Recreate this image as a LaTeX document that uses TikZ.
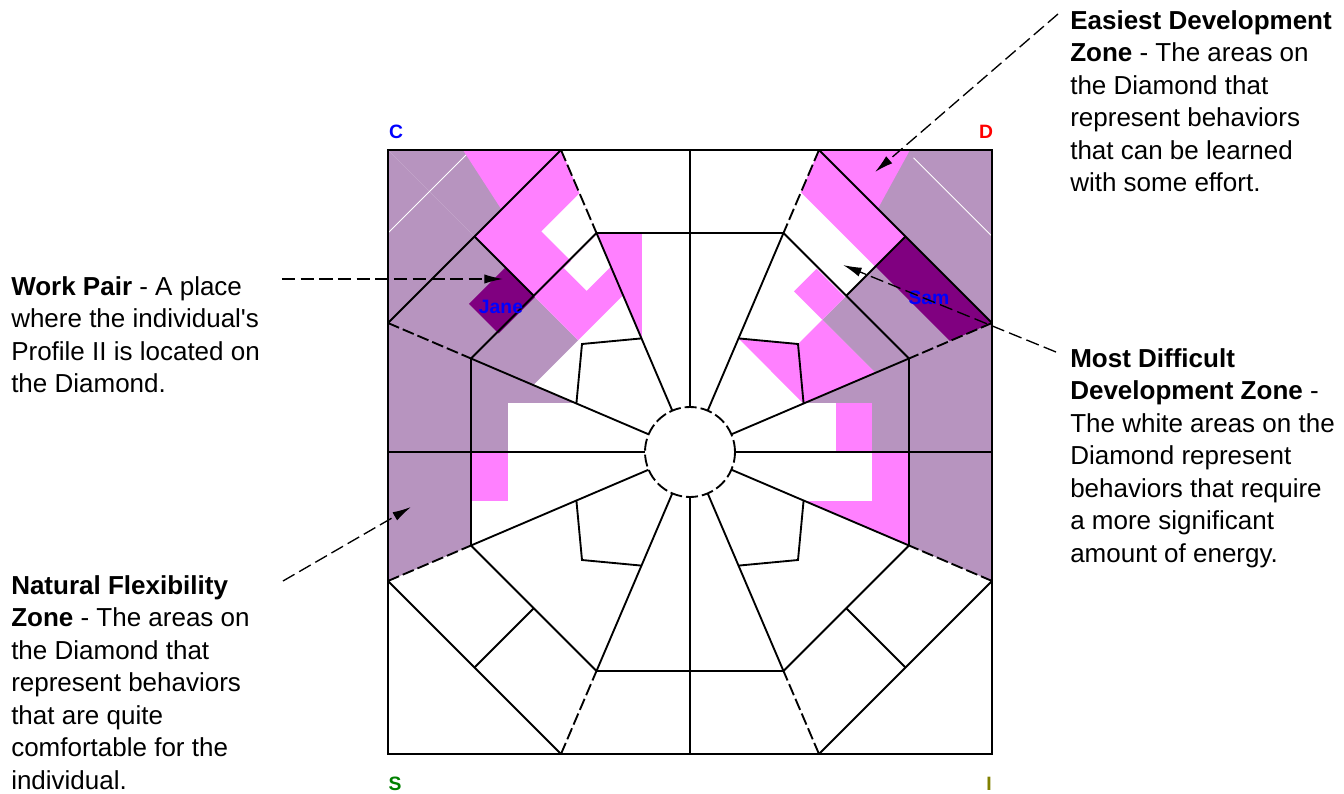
\documentclass[tikz,border=0pt]{standalone}
\usepackage{fontspec}
\setmainfont{Liberation Sans}
\usetikzlibrary{arrows.meta}
\definecolor{diaMauve}{HTML}{B794BF}
\definecolor{diaPink}{HTML}{FF80FF}
\definecolor{diaPlum}{HTML}{800080}
\definecolor{diaBlue}{HTML}{0000FF}
\definecolor{diaRed}{HTML}{FF0000}
\definecolor{diaGreen}{HTML}{008000}
\definecolor{diaOlive}{HTML}{808000}
\tikzset{
  dia line/.style={draw=black, line width=1.4pt},
  dia dash/.style={dia line, dash pattern=on 9pt off 3pt},
  dia seam/.style={draw=white, line width=0.7pt},
  dia note/.style={font=\fontsize{19.5}{24.4}\selectfont, align=left, anchor=north west, inner sep=0pt},
  dia corner/.style={font=\bfseries\fontsize{14.5}{16}\selectfont},
  dia name/.style={font=\bfseries\fontsize{14.5}{16}\selectfont, text=diaBlue},
  dia pointer/.style={draw=black, line width=1pt, dash pattern=on 10pt off 4pt, -{Latex[length=14pt,width=7pt]}},
  nw cell/.style={shift={(-302,302)}, rotate=-45},
  ne cell/.style={xscale=-1, shift={(-302,302)}, rotate=-45},
}

\begin{document}
\begin{tikzpicture}[x=0.75pt, y=0.75pt]
  \useasboundingbox (-690,-341) rectangle (654,452);

  % W sector
  \begin{scope}
    \clip (-302,129) -- (0,0) -- (-302,-129) -- cycle;
    \fill[diaMauve] (-302,-129) rectangle (0,129);
    \fill[white] (-182,0) rectangle (0,49);
    \fill[white] (-218,-129) rectangle (0,0);
    \fill[diaPink] (-218,-49) rectangle (-182,0);
  \end{scope}

  % E sector
  \begin{scope}
    \clip (302,129) -- (0,0) -- (302,-129) -- cycle;
    \fill[diaMauve] (0,-129) rectangle (302,129);
    \fill[white] (0,0) rectangle (146,49);
    \fill[diaPink] (146,0) rectangle (182,49);
    \fill[diaPink] (0,-129) rectangle (218,0);
    \fill[white] (0,-49) rectangle (182,0);
  \end{scope}

  % N sector
  \begin{scope}
    \clip (-129,302) -- (129,302) -- (0,0) -- cycle;
    \fill[diaPink] (-129,115) rectangle (-48,219);
  \end{scope}

  % NW sector (Jane)
  \begin{scope}
    \clip (-302,302) -- (-129,302) -- (0,0) -- (-302,129) -- cycle;
    \begin{scope}[nw cell]
      \fill[diaMauve] (0,-200) rectangle (269,0);
      \fill[diaMauve] (0,0) rectangle (123,200);
      \draw[dia seam] (58.7,-58.7) -- (58.7,58.7);
      \fill[diaPink] (53,53) -- (123,123) -- (123,38) -- cycle;
      \fill[diaPink] (123,0) rectangle (269,200);
      \fill[white] (166,51) rectangle (208,200);
      \fill[white] (208,41) rectangle (240,200);
      \fill[diaPlum] (166,-51.5) rectangle (208,0);
    \end{scope}
  \end{scope}

  % NE sector (Sam)
  \begin{scope}
    \clip (302,302) -- (302,129) -- (0,0) -- (129,302) -- cycle;
    \begin{scope}[ne cell]
      \fill[diaMauve] (0,-200) rectangle (123,200);
      \draw[dia seam] (61,-61) -- (61,50);
      \fill[diaPink] (58,58) -- (123,123) -- (123,39) -- cycle;
      \fill[diaPink] (123,0) rectangle (165,200);
      \fill[diaPlum] (123,-200) rectangle (165,0);
      \fill[diaMauve] (165,-200) rectangle (240,0);
      \fill[diaPink] (208,0) rectangle (240,40);
      \fill[diaPink] (240,-200) rectangle (312.5,0);
    \end{scope}
    \fill[diaPink] (113.6,48.5) -- (108,108) -- (48.5,113.6) -- cycle;
  \end{scope}

  % Diamond outline, four quarters alike
  \foreach \r in {0,90,180,270} {
    \begin{scope}[rotate=\r]
      \draw[dia dash] (129,302) -- (93.5,219);
      \draw[dia dash] (302,129) -- (219,93.5);
      \draw[dia line] (93.5,219) -- (17.7,41.4);
      \draw[dia line] (219,93.5) -- (41.4,17.7);
      \draw[dia line] (129,302) -- (302,129);
      \draw[dia line] (93.5,219) -- (219,93.5);
      \draw[dia line] (93.5,219) -- (-93.5,219);
      \draw[dia line] (215.5,215.5) -- (156.25,156.25);
      \draw[dia line] (113.6,48.5) -- (108,108) -- (48.5,113.6);
      \draw[dia line] (0,45) -- (0,302);
    \end{scope}
  }
  \draw[dia line] (-302,-302) rectangle (302,302);
  \draw[dia dash, fill=white] (0,0) circle (45);

  % Corner letters and names
  \node[dia corner, text=diaBlue] (c label) at (-294,320) {C};
  \node[dia corner, text=diaRed] (d label) at (296,320) {D};
  \node[dia corner, text=diaGreen] (s label) at (-295,-332) {S};
  \node[dia corner, text=diaOlive] (i label) at (299,-332) {I};
  \node[dia name] (jane) at (-189,145) {Jane};
  \node[dia name] (sam) at (239,154) {Sam};

  % Notes
  \node[dia note] (easy note) at (380,442)
    {\textbf{Easiest Development}\\\textbf{Zone} - The areas on\\the Diamond that\\represent behaviors\\that can be learned\\with some effort.};
  \node[dia note] (pair note) at (-679,176)
    {\textbf{Work Pair} - A place\\where the individual\textquotesingle s\\Profile II is located on\\the Diamond.};
  \node[dia note] (hard note) at (380,104)
    {\textbf{Most Difficult}\\\textbf{Development Zone} -\\The white areas on the\\Diamond represent\\behaviors that require\\a more significant\\amount of energy.};
  \node[dia note] (flex note) at (-679,-123)
    {\textbf{Natural Flexibility}\\\textbf{Zone} - The areas on\\the Diamond that\\represent behaviors\\that are quite\\comfortable for the\\individual.};

  % Pointers
  \coordinate (easy tail) at (368,438);
  \coordinate (easy tip) at (185,280);
  \coordinate (pair tail) at (-408,173);
  \coordinate (pair tip) at (-187,173);
  \coordinate (hard tail) at (366,100);
  \coordinate (hard tip) at (153,187);
  \coordinate (flex tail) at (-407,-129);
  \coordinate (flex tip) at (-279,-55);
  \draw[dia pointer] (easy tail) -- (easy tip);
  \draw[dia pointer] (pair tail) -- (pair tip);
  \draw[dia pointer] (hard tail) -- (hard tip);
  \draw[dia pointer] (flex tail) -- (flex tip);
\end{tikzpicture}
\end{document}
